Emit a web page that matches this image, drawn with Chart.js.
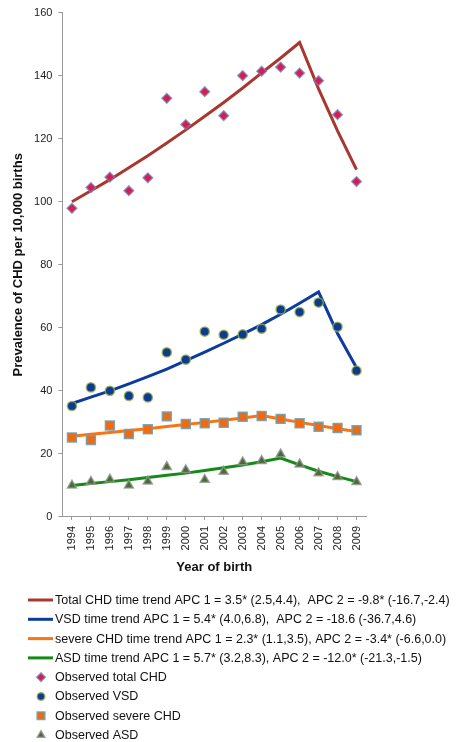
<!DOCTYPE html>
<html>
<head>
<meta charset="utf-8">
<script src="https://cdn.jsdelivr.net/npm/chart.js@4/dist/chart.umd.min.js"></script>
<style>
  html, body { margin: 0; padding: 0; background: #fff; }
  #wrap { width: 461px; height: 742px; position: relative; }
</style>
</head>
<body>
<div id="wrap"><canvas id="c"></canvas></div>
<script>
// Years of birth on the category axis
const years = ['1994','1995','1996','1997','1998','1999','2000','2001','2002','2003','2004','2005','2006','2007','2008','2009'];

// Observed prevalence per 10,000 births
const observedTotal  = [97.9, 104.5, 107.8, 103.5, 107.6, 132.8, 124.5, 134.9, 127.3, 140.0, 141.4, 142.7, 140.8, 138.4, 127.6, 106.4];
const observedVSD    = [35.2, 41.1, 40.0, 38.4, 37.9, 52.2, 49.9, 58.8, 57.8, 57.9, 59.7, 65.8, 65.0, 68.0, 60.3, 46.4];
const observedSevere = [25.2, 24.4, 29.0, 26.3, 27.8, 31.9, 29.5, 29.7, 29.9, 31.8, 32.0, 31.1, 29.7, 28.6, 28.2, 27.5];
const observedASD    = [10.0, 11.2, 11.9, 10.0, 11.3, 15.9, 14.9, 11.8, 14.4, 17.4, 17.8, 19.9, 16.7, 13.9, 12.7, 11.1];

// Fitted joinpoint trends
const trendTotal  = [100.0, 103.5, 107.0, 110.8, 114.6, 118.6, 122.8, 127.1, 131.5, 136.1, 140.9, 145.6, 150.5, 135.8, 122.5, 110.2];
const trendVSD    = [36.0, 38.0, 40.0, 42.2, 44.5, 46.9, 49.6, 52.3, 55.1, 58.0, 61.0, 64.3, 67.8, 71.4, 58.2, 47.3];
const trendSevere = [25.6, 26.2, 26.8, 27.4, 28.0, 28.7, 29.3, 30.0, 30.7, 31.4, 32.2, 31.1, 30.0, 29.0, 28.0, 27.1];
const trendASD    = [10.0, 10.6, 11.2, 11.8, 12.5, 13.2, 13.9, 14.7, 15.6, 16.5, 17.5, 18.7, 16.5, 14.5, 12.8, 11.2];

// Y axis ticks
const yTicks = [0, 20, 40, 60, 80, 100, 120, 140, 160];

// Legend texts
const legendTrend = [
  'Total CHD time trend APC 1 = 3.5* (2.5,4.4),  APC 2 = -9.8* (-16.7,-2.4)',
  'VSD time trend APC 1 = 5.4* (4.0,6.8),  APC 2 = -18.6 (-36.7,4.6)',
  'severe CHD time trend APC 1 = 2.3* (1.1,3.5), APC 2 = -3.4* (-6.6,0.0)',
  'ASD time trend APC 1 = 5.7* (3.2,8.3), APC 2 = -12.0* (-21.3,-1.5)'
];
const legendObserved = ['Observed total CHD', 'Observed VSD', 'Observed severe CHD', 'Observed ASD'];

const FONT = '"Liberation Sans", Arial, Helvetica, sans-serif';

function lineDs(label, data, color) {
  return { type: 'line', label, data, borderColor: color, backgroundColor: color,
           borderWidth: 3, pointRadius: 0, tension: 0, fill: false, order: 5 };
}
function pointDs(label, data, style, fill, edge, r, legendR) {
  return { type: 'line', label, data, showLine: false, pointStyle: style,
           pointRadius: r, pointHoverRadius: r, pointBackgroundColor: fill,
           pointBorderColor: edge, pointBorderWidth: 1.5, borderColor: fill,
           backgroundColor: fill, order: 1, legendRadius: legendR };
}

const datasets = [
  lineDs(legendTrend[0], trendTotal, '#A8382F'),
  lineDs(legendTrend[1], trendVSD, '#0B3C9E'),
  lineDs(legendTrend[2], trendSevere, '#FA7414'),
  lineDs(legendTrend[3], trendASD, '#168A16'),
  pointDs(legendObserved[0], observedTotal, 'rectRot', '#DD1C45', 'rgba(110,130,200,0.75)', 4.8, 4.3),
  pointDs(legendObserved[1], observedVSD, 'circle', '#0D3A92', 'rgba(150,175,70,0.8)', 4.6, 3.8),
  pointDs(legendObserved[2], observedSevere, 'rect', '#F26A10', 'rgba(110,160,180,0.9)', 6.3, 5.4),
  pointDs(legendObserved[3], observedASD, 'triangle', '#4E6A2E', 'rgba(140,150,150,0.8)', 5.2, 4.4)
];

// Legend drawn below the axis title, one entry per row
const listLegend = {
  id: 'listLegend',
  afterDraw(chart) {
    const ctx = chart.ctx;
    const x0 = 28, xText = 55, y0 = 600, step = 19.3;
    ctx.save();
    ctx.font = '12.5px ' + FONT;
    ctx.textBaseline = 'middle';
    chart.data.datasets.forEach((ds, i) => {
      const y = y0 + i * step;
      if (ds.showLine === false) {
        ctx.fillStyle = ds.pointBackgroundColor;
        ctx.strokeStyle = ds.pointBorderColor;
        ctx.lineWidth = ds.pointBorderWidth;
        Chart.helpers.drawPoint(ctx, { pointStyle: ds.pointStyle, radius: ds.legendRadius,
                                       borderWidth: ds.pointBorderWidth }, 41, y);
      } else {
        ctx.strokeStyle = ds.borderColor;
        ctx.lineWidth = 3;
        ctx.beginPath();
        ctx.moveTo(x0, y);
        ctx.lineTo(xText - 2, y);
        ctx.stroke();
      }
      ctx.fillStyle = '#111';
      ctx.fillText(ds.label, xText, y + 0.5);
    });
    ctx.restore();
  }
};

new Chart(document.getElementById('c'), {
  data: { labels: years, datasets },
  options: {
    responsive: true,
    maintainAspectRatio: false,
    animation: false,
    layout: { padding: { top: 1, right: 95, bottom: 167, left: 10.5 } },
    plugins: { legend: { display: false }, tooltip: { enabled: false } },
    scales: {
      x: {
        type: 'category',
        offset: true,
        grid: { display: true, drawOnChartArea: false, drawTicks: true, tickLength: 3, color: '#999', offset: false },
        border: { display: true, color: '#999', width: 1 },
        ticks: { minRotation: 90, maxRotation: 90, autoSkip: false, color: '#222', padding: 6,
                 font: { family: FONT, size: 11 } },
        title: { display: true, text: 'Year of birth', color: '#111',
                 font: { family: FONT, size: 13, weight: 'bold' }, padding: { top: 3, bottom: 0 } }
      },
      y: {
        min: 0, max: 160,
        afterBuildTicks(scale) { scale.ticks = yTicks.map(v => ({ value: v })); },
        grid: { display: true, drawOnChartArea: false, drawTicks: true, tickLength: 4, color: '#999' },
        border: { display: true, color: '#999', width: 1 },
        ticks: { color: '#222', padding: 6, font: { family: FONT, size: 11 } },
        title: { display: true, text: 'Prevalence of CHD per 10,000 births', color: '#111',
                 font: { family: FONT, size: 13, weight: 'bold' }, padding: { top: 0, bottom: 2 } }
      }
    }
  },
  plugins: [listLegend]
});
</script>
</body>
</html>
